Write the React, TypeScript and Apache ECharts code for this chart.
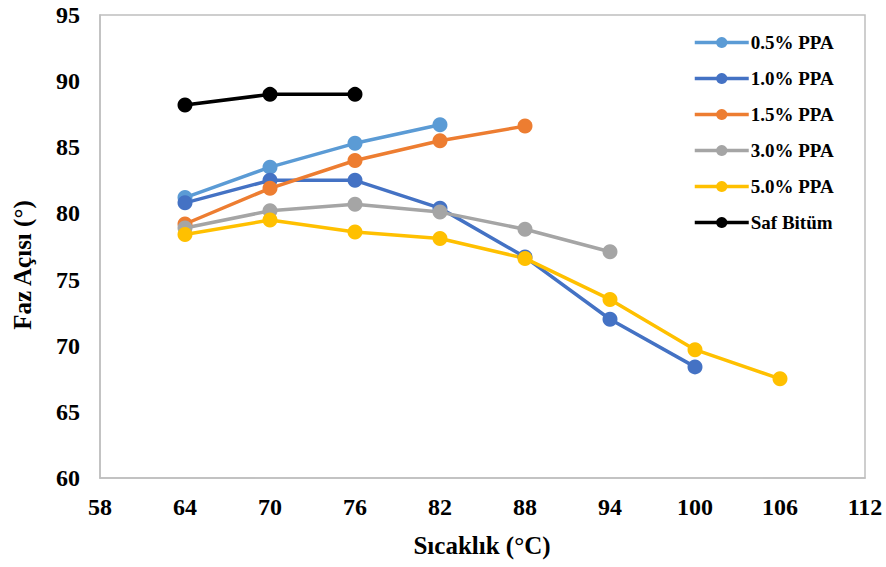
import React, { useEffect, useRef } from "react";
import * as echarts from "echarts";

const temperatures = [64, 70, 76, 82, 88, 94, 100, 106];

const ppa05 = [81.2, 83.5, 85.3, 86.7];
const ppa10 = [80.8, 82.5, 82.5, 80.4, 76.7, 72.0, 68.4];
const ppa15 = [79.2, 81.9, 84.0, 85.5, 86.6];
const ppa30 = [78.9, 80.2, 80.7, 80.1, 78.8, 77.1];
const ppa50 = [78.4, 79.5, 78.6, 78.1, 76.6, 73.5, 69.7, 67.5];
const safBitum = [88.2, 89.0, 89.0];

const seriesNames = ["0.5% PPA", "1.0% PPA", "1.5% PPA", "3.0% PPA", "5.0% PPA", "Saf Bitüm"];
const seriesValues = [ppa05, ppa10, ppa15, ppa30, ppa50, safBitum];
const seriesColors = ["#5B9BD5", "#4472C4", "#ED7D31", "#A5A5A5", "#FFC000", "#000000"];

const xTitle = "Sıcaklık (°C)";
const yTitle = "Faz Açısı (°)";

const FONT = "'Liberation Serif', 'Times New Roman', serif";

export default function App() {
  const ref = useRef<HTMLDivElement>(null);
  useEffect(() => {
    document.body.style.margin = "0";
    if (!ref.current) return;
    const chart = echarts.init(ref.current, undefined, { renderer: "svg" });
    const series = seriesNames.map((name, i) => ({
      name,
      type: "line",
      data: seriesValues[i].map((v, j) => [temperatures[j], v]),
      symbol: "circle",
      symbolSize: 15,
      lineStyle: { width: 3.5, color: seriesColors[i] },
      itemStyle: { color: seriesColors[i] },
      emphasis: { disabled: true },
    }));
    chart.setOption({
      animation: false,
      backgroundColor: "#ffffff",
      textStyle: { fontFamily: FONT },
      grid: {
        left: 100,
        right: 21,
        top: 15,
        bottom: 89,
        show: true,
        borderColor: "#BFBFBF",
        borderWidth: 1.5,
      },
      legend: {
        orient: "vertical",
        left: 693,
        top: 33,
        padding: 0,
        itemWidth: 54,
        itemHeight: 14,
        itemGap: 17,
        lineStyle: { width: 3.5 },
        data: seriesNames,
        textStyle: {
          fontFamily: FONT,
          fontWeight: "bold",
          fontSize: 19,
          color: "#000",
          padding: [0, 0, 0, -3],
        },
      },
      xAxis: {
        type: "value",
        min: 58,
        max: 112,
        interval: 6,
        axisLine: { show: true, lineStyle: { color: "#BFBFBF", width: 1.5 } },
        axisTick: { show: false },
        splitLine: { show: false },
        axisLabel: {
          margin: 17,
          fontFamily: FONT,
          fontWeight: "bold",
          fontSize: 24,
          color: "#000",
        },
      },
      yAxis: {
        type: "value",
        min: 60,
        max: 95,
        interval: 5,
        axisLine: { show: true, lineStyle: { color: "#BFBFBF", width: 1.5 } },
        axisTick: { show: false },
        splitLine: { show: false },
        axisLabel: {
          margin: 20,
          fontFamily: FONT,
          fontWeight: "bold",
          fontSize: 24,
          color: "#000",
        },
      },
      graphic: [
        {
          type: "text",
          x: 482,
          y: 545,
          style: {
            text: xTitle,
            fontFamily: FONT,
            fontWeight: "bold",
            fontSize: 25,
            fill: "#000",
            align: "center",
            verticalAlign: "middle",
          },
        },
        {
          type: "text",
          x: 22,
          y: 265,
          rotation: Math.PI / 2,
          style: {
            text: yTitle,
            fontFamily: FONT,
            fontWeight: "bold",
            fontSize: 25,
            fill: "#000",
            align: "center",
            verticalAlign: "middle",
          },
        },
      ],
      series,
    });
    return () => chart.dispose();
  }, []);
  return <div ref={ref} style={{ width: 886, height: 567 }} />;
}
